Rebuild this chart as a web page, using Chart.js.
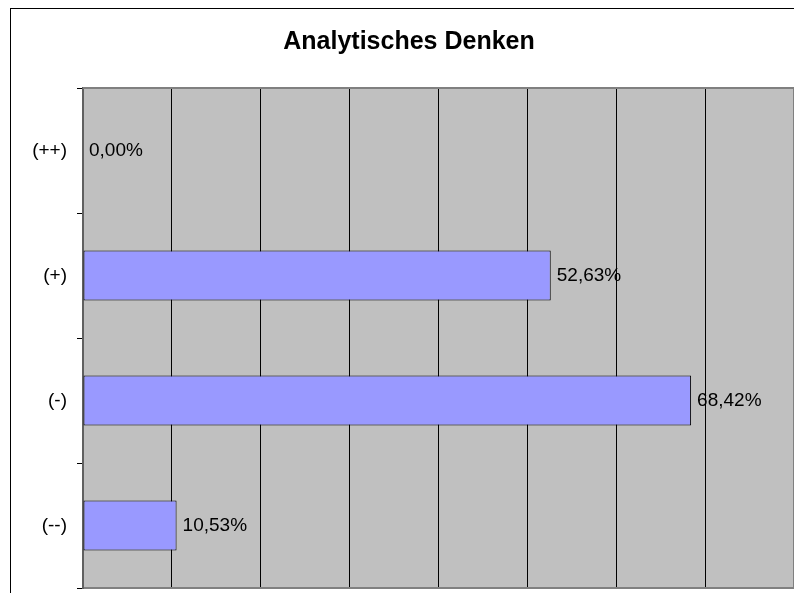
<!DOCTYPE html>
<html>
<head>
<meta charset="utf-8">
<script src="https://cdn.jsdelivr.net/npm/chart.js@4/dist/chart.umd.min.js"></script>
<style>
  html, body { margin: 0; padding: 0; background: #fff; overflow: hidden; }
  #wrap { position: absolute; left: 0; top: 0; width: 818px; height: 593px; }
</style>
</head>
<body>
<div id="wrap"><canvas id="barChart" width="818" height="593"></canvas></div>
<script>
// Werte aus der Vorlage
const categories = ['(++)', '(+)', '(-)', '(--)'];
const values = [0.00, 52.63, 68.42, 10.53];
const xMax = 80;
const xStep = 10;
const titleText = 'Analytisches Denken';

const FONT = '"Liberation Sans", Arial, sans-serif';

const plotBg = {
    id: 'plotBg',
    beforeDraw(chart) {
        const ctx = chart.ctx, a = chart.chartArea;
        ctx.save();
        // outer chart border (cropped)
        ctx.strokeStyle = '#000';
        ctx.lineWidth = 1;
        ctx.strokeRect(10.5, 8.5, 2000, 2000);
        ctx.fillStyle = '#C0C0C0';
        ctx.fillRect(a.left, a.top, a.right - a.left, a.bottom - a.top);
        ctx.restore();
    },
    afterDraw(chart) {
        const ctx = chart.ctx, a = chart.chartArea;
        ctx.save();
        ctx.strokeStyle = '#808080';
        ctx.lineWidth = 2;
        ctx.beginPath();
        ctx.moveTo(a.left, a.top);
        ctx.lineTo(a.right, a.top);
        ctx.lineTo(a.right, a.bottom);
        ctx.stroke();
        // title, centred on the full (cropped) chart
        ctx.font = 'bold 25px ' + FONT;
        ctx.fillStyle = '#000';
        ctx.textAlign = 'center';
        ctx.textBaseline = 'alphabetic';
        ctx.fillText(titleText, 409, 49);
        ctx.restore();
    }
};

const valueLabels = {
    id: 'valueLabels',
    afterDatasetsDraw(chart) {
        const ctx = chart.ctx;
        const meta = chart.getDatasetMeta(0);
        ctx.save();
        ctx.font = '19px ' + FONT;
        ctx.fillStyle = '#000';
        ctx.textAlign = 'left';
        ctx.textBaseline = 'middle';
        meta.data.forEach((bar, i) => {
            const txt = values[i].toFixed(2).replace('.', ',') + '%';
            ctx.fillText(txt, bar.x + 6, bar.y);
        });
        ctx.restore();
    }
};

const data = {
    labels: categories,
    datasets: [{
        data: values,
        backgroundColor: '#9999FF',
        borderColor: '#000000',
        borderWidth: 1,
        borderSkipped: false,
        categoryPercentage: 1.0,
        barPercentage: 0.4
    }]
};

const config = {
    type: 'bar',
    data,
    options: {
        indexAxis: 'y',
        responsive: false,
        animation: false,
        layout: { padding: { left: 0, right: 24, top: 88, bottom: 5 } },
        plugins: {
            legend: { display: false },
            tooltip: { enabled: false },
            title: { display: false }
        },
        scales: {
            x: {
                min: 0,
                max: xMax,
                afterFit(scale) {
                    scale.height = 0;
                    scale.paddingLeft = 0; scale.paddingRight = 0;
                },
                ticks: { display: false, stepSize: xStep },
                grid: { color: '#000', lineWidth: 1, drawTicks: false },
                border: { color: '#808080', width: 2 }
            },
            y: {
                afterFit(scale) {
                    scale.width = 83;
                    scale.paddingTop = 0; scale.paddingBottom = 0;
                },
                ticks: {
                    color: '#000',
                    padding: 10,
                    font: { family: FONT, size: 19 }
                },
                grid: {
                    offset: true,
                    drawOnChartArea: false,
                    drawTicks: true,
                    tickLength: 6,
                    color: '#000'
                },
                border: { color: '#606060', width: 2 }
            }
        }
    },
    plugins: [plotBg, valueLabels]
};

const barChart = new Chart(document.getElementById('barChart').getContext('2d'), config);
</script>
</body>
</html>
